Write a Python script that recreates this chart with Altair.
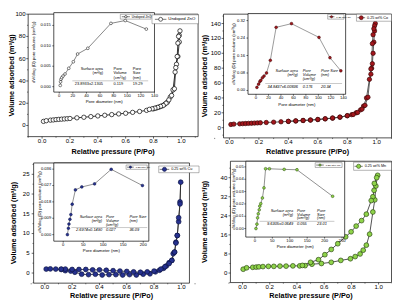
import altair as alt
import pandas as pd

W, H = 392, 296
SX, SY = W / 400.0, H / 304.0
FONT = "Liberation Sans"

# ---------------- data ----------------
# Undoped ZnO isotherm
tl_ads_p = [0.01, 0.03, 0.06, 0.08, 0.10, 0.12, 0.14, 0.16, 0.18, 0.20, 0.25, 0.30, 0.35, 0.40, 0.45, 0.50, 0.55,
            0.60, 0.65, 0.70, 0.75, 0.80, 0.82, 0.84, 0.86, 0.88, 0.90, 0.92, 0.94, 0.955, 0.965, 0.975, 0.985, 0.99]
tl_ads_v = [3.7, 4.3, 4.8, 5.0, 5.3, 5.5, 5.7, 5.9, 6.1, 6.3, 6.9, 7.4, 8.0, 8.6, 9.2, 9.8, 10.4,
            11.0, 11.8, 12.6, 13.6, 15.0, 15.7, 16.5, 17.5, 19.0, 21.0, 25.5, 32.0, 48.0, 55.0, 62.0, 75.0, 85.0]
tl_des_p = [0.985, 0.98, 0.975, 0.97, 0.96, 0.95, 0.93, 0.91, 0.89, 0.87, 0.85, 0.83, 0.81, 0.79, 0.77]
tl_des_v = [81.0, 80.0, 74.0, 62.0, 52.0, 33.0, 27.0, 23.0, 20.0, 18.0, 17.2, 16.3, 15.6, 15.0, 14.5]
tl_pore_d = [1.5, 2.0, 2.6, 3.8, 5.6, 8.5, 14.0, 20.7, 27, 42, 76, 97, 128]
tl_pore_v = [0.0003, 0.0012, 0.0018, 0.0022, 0.0026, 0.0031, 0.0045, 0.0061, 0.0080, 0.0094, 0.0155, 0.0162, 0.0141]

# 0.25 wt% Co
tr_ads_p = [0.01, 0.03, 0.07, 0.09, 0.11, 0.13, 0.15, 0.17, 0.19, 0.21, 0.25, 0.30, 0.35, 0.40, 0.45, 0.50, 0.55,
            0.60, 0.65, 0.70, 0.75, 0.80, 0.83, 0.86, 0.89, 0.91, 0.93, 0.95, 0.96, 0.97, 0.975, 0.98, 0.985, 0.99]
tr_ads_v = [4.3, 4.8, 5.2, 5.4, 5.6, 5.8, 6.0, 6.2, 6.4, 6.6, 7.0, 7.4, 7.9, 8.4, 9.0, 9.6, 10.2,
            10.9, 11.8, 12.8, 14.0, 16.0, 17.5, 20.0, 24.0, 29.0, 40.0, 65.0, 72.0, 86.0, 100.0, 115.0, 130.0, 140.0]
tr_des_p = [0.985, 0.98, 0.975, 0.97, 0.965, 0.96, 0.94, 0.92, 0.90, 0.87, 0.84, 0.80, 0.75, 0.70, 0.65, 0.60,
            0.55, 0.50, 0.45, 0.40]
tr_des_v = [137.0, 133.0, 125.0, 113.0, 80.0, 79.0, 41.0, 30.0, 25.0, 20.5, 17.8, 16.2, 14.3, 13.0, 12.0, 11.1,
            10.3, 9.8, 9.2, 8.6]
tr_pore_d = [1.5, 4.2, 6.2, 7.7, 10.3, 12.9, 16.9, 23, 32.3, 56.9, 101, 118.6, 136]
tr_pore_v = [0.014, 0.029, 0.041, 0.046, 0.058, 0.066, 0.080, 0.138, 0.289, 0.306, 0.243, 0.150, 0.090]

# 0.25 wt% Cu
bl_ads_p = [0.01, 0.04, 0.08, 0.12, 0.15, 0.19, 0.22, 0.27, 0.32, 0.37, 0.42, 0.47, 0.52, 0.57, 0.62, 0.67,
            0.72, 0.77, 0.81, 0.84, 0.87, 0.89, 0.91, 0.93, 0.94, 0.95, 0.96, 0.97, 0.98, 0.99, 0.995]
bl_ads_v = [1.0, 1.05, 1.0, 0.9, 0.6, 0.5, 0.2, -0.3, -0.4, -0.3, -0.5, -0.4, -0.4, -0.5, -0.4, -0.5,
            -0.3, -0.2, 0.3, 0.7, 1.2, 1.8, 2.6, 3.2, 4.9, 5.3, 7.8, 9.5, 13.0, 18.0, 23.0]
bl_des_p = [0.99, 0.98, 0.97, 0.96, 0.95, 0.93, 0.91, 0.88, 0.85, 0.80, 0.75, 0.70, 0.65, 0.60, 0.55, 0.50,
            0.45, 0.40, 0.35, 0.30, 0.25, 0.20, 0.15, 0.12]
bl_des_v = [17.5, 14.0, 9.5, 7.6, 5.3, 3.2, 2.4, 1.6, 1.0, 0.5, 0.3, 0.2, 0.3, 0.4, 0.5, 0.6,
            0.7, 0.8, 0.8, 0.9, 0.9, 0.9, 1.0, 1.0]
bl_pore_d = [10.5, 13, 14.4, 16.8, 19.2, 22.5, 30.5, 46.5, 78.4, 120, 198]
bl_pore_v = [0.0, 0.0035, 0.0058, 0.0084, 0.011, 0.0167, 0.0246, 0.0262, 0.0279, 0.0359, 0.0270]

# 0.25 wt% Mn
br_ads_p = [0.005, 0.03, 0.075, 0.10, 0.12, 0.15, 0.19, 0.23, 0.275, 0.32, 0.37, 0.42, 0.46, 0.51, 0.58, 0.652,
            0.722, 0.793, 0.828, 0.864, 0.887, 0.91, 0.934, 0.958, 0.972, 0.98, 0.993]
br_ads_v = [1.6, 2.2, 2.4, 2.5, 2.6, 2.7, 2.8, 2.8, 2.9, 2.9, 3.0, 3.0, 3.1, 3.7, 4.0, 4.5,
            5.3, 6.0, 6.9, 8.0, 9.6, 11.7, 16.3, 25.6, 30.7, 36.5, 41.0]
br_des_p = [0.986, 0.969, 0.967, 0.958, 0.946, 0.91, 0.875, 0.835, 0.798, 0.758, 0.70, 0.652, 0.605, 0.558,
            0.50, 0.44]
br_des_v = [40.0, 37.6, 34.7, 32.0, 30.4, 24.7, 22.0, 19.7, 17.3, 15.2, 12.3, 9.9, 7.7, 5.6, 4.5, 3.2]
br_pore_d = [3, 5.8, 7.7, 9.6, 12.4, 14, 16.8, 21.5, 26, 30.6, 41.6, 84, 120.7, 223]
br_pore_v = [0.0, 0.0036, 0.0087, 0.012, 0.0152, 0.0182, 0.0202, 0.0248, 0.033, 0.0485, 0.0485, 0.048, 0.0477, 0.0262]

series_names = ["Undoped ZnO", "0.25 wt% Co", "0.25 wt% Cu", "0.25 wt% Mn"]
table_head = ["Surface area", "(m\u00b2/g)", "Pore", "Volume", "(cm\u00b3/g)", "Size", "(nm)", "Pore Size"]
surface_area = ["23.8933\u00b12.1305", "34.8437\u00b16.00836", "2.6974\u00b10.1490", "9.6305\u00b10.0649"]
pore_volume = ["0.119", "0.176", "0.027", "0.055"]
pore_size = ["19.29", "20.34", "36.09", "23.01"]

# tick values
main_x_ticks = [0.0, 0.2, 0.4, 0.6, 0.8, 1.0]
main_x_minor = [-0.1, 0.1, 0.3, 0.5, 0.7, 0.9, 1.1]
tl_y_ticks, tl_y_minor = [0, 20, 40, 60, 80, 100], [-10, 10, 30, 50, 70, 90]
tr_y_ticks, tr_y_minor = [0, 20, 40, 60, 80, 100, 120, 140], [-10, 10, 30, 50, 70, 90, 110, 130, 150]
bl_y_ticks, bl_y_minor = [0, 5, 10, 15, 20, 25], [-2.5, 2.5, 7.5, 12.5, 17.5, 22.5, 27.5]
br_y_ticks, br_y_minor = [0, 8, 16, 24, 32, 40], [-4, 4, 12, 20, 28, 36, 44]
tl_in_x, tl_in_y = [0, 20, 40, 60, 80, 100, 120, 140], [0.0, 0.005, 0.010, 0.015]
tr_in_x, tr_in_y = [0, 20, 40, 60, 80, 100, 120, 140], [0.0, 0.08, 0.16, 0.24, 0.32]
bl_in_x, bl_in_y = [0, 50, 100, 150, 200], [0.0, 0.009, 0.018, 0.027, 0.036]
br_in_x, br_in_y = [0, 50, 100, 150, 200, 250], [0.0, 0.01, 0.02, 0.03, 0.04, 0.05]

XTITLE = "Relative pressure (P/Po)"
YTITLE = "Volume adsorbed (m\u00b3/g)"
ITX = "Pore diameter (nm)"
ITY = "dV/dlog (D) pore volume (cm\u00b3/g)"


# ---------------- helpers ----------------
def X(v):
    return v * SX


def Y(v):
    return v * SY


def seq_df(xs, ys):
    return pd.DataFrame({"a": xs, "b": ys, "i": list(range(len(xs)))})


def panel(df, box, xdom, ydom, xticks, yticks, xfmt, yfmt, xtitle, ytitle,
          mfill, mstroke, msize, lcolor, ylab_right, ytitle_x, xlab_y, xtitle_y,
          xminor=(), yminor=(), inset=False):
    x0, x1, y0, y1 = box
    xs = alt.Scale(domain=xdom, range=[X(x0), X(x1)], nice=False, zero=False)
    ys = alt.Scale(domain=ydom, range=[Y(y1), Y(y0)], nice=False, zero=False)
    lab = 4.2 if inset else 6.2
    tit = 4.4 if inset else 7.4
    tw = "normal" if inset else "bold"
    tk = 1.5 if inset else 2.0
    fr = pd.DataFrame({"a": [xdom[0]], "a2": [xdom[1]], "b": [ydom[0]], "b2": [ydom[1]]})
    frame = alt.Chart(fr).mark_rect(fill="white", fillOpacity=1 if inset else 0,
                                    stroke="black", strokeWidth=0.7).encode(
        x=alt.X("a:Q", scale=xs, axis=None), x2="a2:Q",
        y=alt.Y("b:Q", scale=ys, axis=None), y2="b2:Q")
    line = alt.Chart(df).mark_line(color=lcolor, strokeWidth=0.6 if inset else 0.8).encode(
        x=alt.X("a:Q", scale=xs, axis=None), y=alt.Y("b:Q", scale=ys, axis=None),
        order="i:Q")
    pts = alt.Chart(df).mark_point(filled=True, fill=mfill, stroke=mstroke, opacity=1,
                                   strokeWidth=0.5 if inset else 0.7, size=msize).encode(
        x=alt.X("a:Q", scale=xs, axis=None), y=alt.Y("b:Q", scale=ys, axis=None))
    xt = pd.DataFrame({"t": xticks})
    yt = pd.DataFrame({"t": yticks})
    xtick = alt.Chart(xt).mark_rule(color="black", strokeWidth=0.6).encode(
        x=alt.X("t:Q", scale=xs, axis=None), y=alt.value(Y(y1)), y2=alt.value(Y(y1) + tk))
    ytick = alt.Chart(yt).mark_rule(color="black", strokeWidth=0.6).encode(
        y=alt.Y("t:Q", scale=ys, axis=None), x=alt.value(X(x0) - tk), x2=alt.value(X(x0)))
    xlab = alt.Chart(xt).mark_text(align="center", baseline="middle", fontSize=lab, font=FONT,
                                   color="black").encode(
        x=alt.X("t:Q", scale=xs, axis=None), y=alt.value(Y(xlab_y)),
        text=alt.Text("t:Q", format=xfmt))
    ylab = alt.Chart(yt).mark_text(align="right", baseline="middle", fontSize=lab, font=FONT,
                                   color="black").encode(
        y=alt.Y("t:Q", scale=ys, axis=None), x=alt.value(X(ylab_right)),
        text=alt.Text("t:Q", format=yfmt))
    xtit = alt.Chart(pd.DataFrame({"t": [xtitle]})).mark_text(
        align="center", baseline="middle", fontSize=tit, font=FONT, fontWeight=tw, color="black").encode(
        x=alt.value(X((x0 + x1) / 2)), y=alt.value(Y(xtitle_y)), text="t:N")
    ytit = alt.Chart(pd.DataFrame({"t": [ytitle]})).mark_text(
        align="center", baseline="middle", fontSize=tit, font=FONT, fontWeight=tw, color="black",
        angle=270).encode(
        x=alt.value(X(ytitle_x)), y=alt.value(Y((y0 + y1) / 2)), text="t:N")
    parts = [frame, xtick, ytick, xlab, ylab, xtit, ytit, line, pts]
    if len(xminor):
        parts.append(alt.Chart(pd.DataFrame({"t": list(xminor)})).mark_rule(color="black", strokeWidth=0.5).encode(
            x=alt.X("t:Q", scale=xs, axis=None), y=alt.value(Y(y1)), y2=alt.value(Y(y1) + 1.2)))
    if len(yminor):
        parts.append(alt.Chart(pd.DataFrame({"t": list(yminor)})).mark_rule(color="black", strokeWidth=0.5).encode(
            y=alt.Y("t:Q", scale=ys, axis=None), x=alt.value(X(x0) - 1.2), x2=alt.value(X(x0))))
    return alt.layer(*parts)


def txt(rows, size, align="left", style="normal", weight="normal"):
    df = pd.DataFrame(rows, columns=["x", "y", "t"])
    df["x"] = df["x"] * SX
    df["y"] = df["y"] * SY
    return alt.Chart(df).mark_text(align=align, baseline="middle", fontSize=size, font=FONT,
                                   fontStyle=style, fontWeight=weight, color="black").encode(
        x=alt.X("x:Q", scale=None, axis=None), y=alt.Y("y:Q", scale=None, axis=None),
        text="t:N")


def legend(box, lx0, lx1, ly, label, fill, stroke, msize, fsize):
    bx0, bx1, by0, by1 = box
    rect = alt.Chart(pd.DataFrame({"x": [X(bx0)], "x2": [X(bx1)], "y": [Y(by0)], "y2": [Y(by1)]})).mark_rect(
        fill="white", stroke="#444", strokeWidth=0.4).encode(
        x=alt.X("x:Q", scale=None, axis=None), x2="x2:Q",
        y=alt.Y("y:Q", scale=None, axis=None), y2="y2:Q")
    rule = alt.Chart(pd.DataFrame({"x": [X(lx0)], "x2": [X(lx1)], "y": [Y(ly)]})).mark_rule(
        color="#222", strokeWidth=0.6).encode(
        x=alt.X("x:Q", scale=None, axis=None), x2="x2:Q", y=alt.Y("y:Q", scale=None, axis=None))
    dot = alt.Chart(pd.DataFrame({"x": [X((lx0 + lx1) / 2)], "y": [Y(ly)]})).mark_point(
        filled=True, fill=fill, stroke=stroke, strokeWidth=0.6, size=msize, opacity=1).encode(
        x=alt.X("x:Q", scale=None, axis=None), y=alt.Y("y:Q", scale=None, axis=None))
    lab = txt([(lx1 + 2, ly, label)], fsize)
    return [rect, rule, dot, lab]


def hrule(x0, x1, y):
    return alt.Chart(pd.DataFrame({"x": [X(x0)], "x2": [X(x1)], "y": [Y(y)]})).mark_rule(
        color="#777", strokeWidth=0.4).encode(
        x=alt.X("x:Q", scale=None, axis=None), x2="x2:Q", y=alt.Y("y:Q", scale=None, axis=None))


def table(k, c1, c2, c3, ys, yv, style, three_line_size=True):
    h = table_head
    rows_r = [(c1, ys[0], h[0]), (c1, ys[1], h[1]), (c1, yv, surface_area[k])]
    rows_l = [(c2, ys[0], h[2]), (c2, ys[1], h[3]), (c2, ys[2], h[4]), (c2, yv, pore_volume[k])]
    if three_line_size:
        rows_l += [(c3, ys[0], h[2]), (c3, ys[1], h[5]), (c3, ys[2], h[6])]
    else:
        rows_l += [(c3, ys[0], h[7]), (c3, ys[1], h[6])]
    rows_l += [(c3, yv, pore_size[k])]
    return [txt(rows_r, 4.0, "right", style), txt(rows_l, 4.0, "left", style)]


layers = []
# ---- top-left: undoped ZnO ----
layers.append(panel(seq_df(tl_ads_p + tl_des_p, tl_ads_v + tl_des_v), (21, 198, 3.3, 131.7),
                    [-0.1, 1.12], [-10, 100], main_x_ticks, tl_y_ticks, ".1f", "d",
                    XTITLE, YTITLE, "white", "black", 20, "black",
                    ylab_right=18.3, ytitle_x=4.5, xlab_y=136.3, xtitle_y=147.5,
                    xminor=main_x_minor, yminor=tl_y_minor))
layers.append(panel(seq_df(tl_pore_d, tl_pore_v), (47.7, 152.6, 1.7, 85),
                    [-8, 140], [-0.00133, 0.01813], tl_in_x, tl_in_y, "d", ".3f", ITX, ITY,
                    "white", "black", 8, "#333",
                    ylab_right=44.5, ytitle_x=27, xlab_y=89, xtitle_y=95.5, inset=True))
# ---- top-right: Co ----
layers.append(panel(seq_df(tr_ads_p + tr_des_p, tr_ads_v + tr_des_v), (224.5, 399.5, 3.3, 133),
                    [-0.04, 1.1], [-13.7, 152.6], main_x_ticks, tr_y_ticks, ".1f", "d",
                    XTITLE, YTITLE, "#a3161c", "#3a0808", 20, "#333",
                    ylab_right=221.7, ytitle_x=205, xlab_y=137, xtitle_y=147.5,
                    xminor=main_x_minor, yminor=tr_y_minor))
layers.append(panel(seq_df(tr_pore_d, tr_pore_v), (250, 351.7, 2.7, 87.3),
                    [-12.8, 143.7], [-0.0175, 0.352], tr_in_x, tr_in_y, "d", ".2f", ITX, ITY,
                    "#a3161c", "#3a0808", 8, "#555",
                    ylab_right=247, ytitle_x=235, xlab_y=91.3, xtitle_y=98.5, inset=True))
# ---- bottom-left: Cu ----
layers.append(panel(seq_df(bl_ads_p + bl_des_p, bl_ads_v + bl_des_v), (26.7, 189, 159.3, 285.3),
                    [-0.082, 1.059], [-2.56, 27.87], main_x_ticks, bl_y_ticks, ".1f", "d",
                    XTITLE, YTITLE, "#26318f", "#0d1445", 24, "#222",
                    ylab_right=22.5, ytitle_x=6, xlab_y=289.3, xtitle_y=298.5,
                    xminor=main_x_minor, yminor=bl_y_minor))
layers.append(panel(seq_df(bl_pore_d, bl_pore_v), (47.7, 146.7, 159.3, 241.3),
                    [-23.5, 214], [-0.0036, 0.0394], bl_in_x, bl_in_y, "d", ".3f", ITX, ITY,
                    "#26318f", "#0d1445", 8, "#444",
                    ylab_right=45, ytitle_x=33, xlab_y=245, xtitle_y=251.5, inset=True))
# ---- bottom-right: Mn ----
layers.append(panel(seq_df(br_ads_p + br_des_p, br_ads_v + br_des_v), (231.7, 399.5, 157.5, 284.7),
                    [-0.089, 1.095], [-4.0, 46.9], main_x_ticks, br_y_ticks, ".1f", "d",
                    XTITLE, YTITLE, "#8fd44a", "#2c4a12", 24, "#222",
                    ylab_right=228.5, ytitle_x=205.5, xlab_y=289.3, xtitle_y=298.5,
                    xminor=main_x_minor, yminor=br_y_minor))
layers.append(panel(seq_df(br_pore_d, br_pore_v), (247.7, 350.7, 157.5, 237),
                    [-26.2, 257.6], [-0.0069, 0.0546], br_in_x, br_in_y, "d", ".2f", ITX, ITY,
                    "#8fd44a", "#2c4a12", 8, "#444",
                    ylab_right=245.5, ytitle_x=235, xlab_y=240.8, xtitle_y=247.5, inset=True))

# ---- tables ----
layers += [hrule(67, 146, 73.2)] + table(0, 99, 110, 130, [61, 65.5, 70], 77, "normal")
layers += [hrule(268, 348, 76)] + table(1, 302, 307, 326, [62.5, 67, 71.5], 80, "italic", False)
layers += [hrule(66, 145, 227)] + table(2, 98, 102, 126.5, [215.5, 219.8, 224], 229.8, "italic", False)
layers += [hrule(262, 340, 220.5)] + table(3, 297, 301, 322, [209.5, 213.5, 217.5], 223.5, "italic")

# ---- legends ----
layers += legend((150, 198.5, 4, 13.3), 153, 165, 8.7, series_names[0], "white", "black", 16, 4.4)
layers += legend((117, 149, 3.5, 8.5), 118.5, 127, 6, series_names[0], "white", "black", 6, 3.2)
layers += legend((363, 399.5, 3.3, 10.7), 364, 372, 7, series_names[1], "#a3161c", "#3a0808", 16, 3.8)
layers += legend((333, 350, 3.5, 8.5), 334, 340, 6, series_names[1], "#a3161c", "#3a0808", 5, 2.6)
layers += legend((157, 199, 162.5, 169.5), 158, 168, 166, series_names[2], "#26318f", "#0d1445", 18, 3.8)
layers += legend((123, 145, 161.5, 166), 124, 131, 163.7, series_names[2], "#26318f", "#0d1445", 5, 2.6)
layers += legend((360, 399.5, 158.5, 167), 361, 369.5, 162.8, series_names[3], "#8fd44a", "#2c4a12", 18, 3.8)
layers += legend((320, 348, 159, 164), 321, 329, 161.5, series_names[3], "#8fd44a", "#2c4a12", 5, 2.6)

chart = alt.layer(*layers).resolve_scale(x="independent", y="independent").properties(
    width=W, height=H, autosize="none", padding=0, background="white").configure_view(stroke=None)

chart.save("out.html", embed_options={"renderer": "svg", "actions": False})
